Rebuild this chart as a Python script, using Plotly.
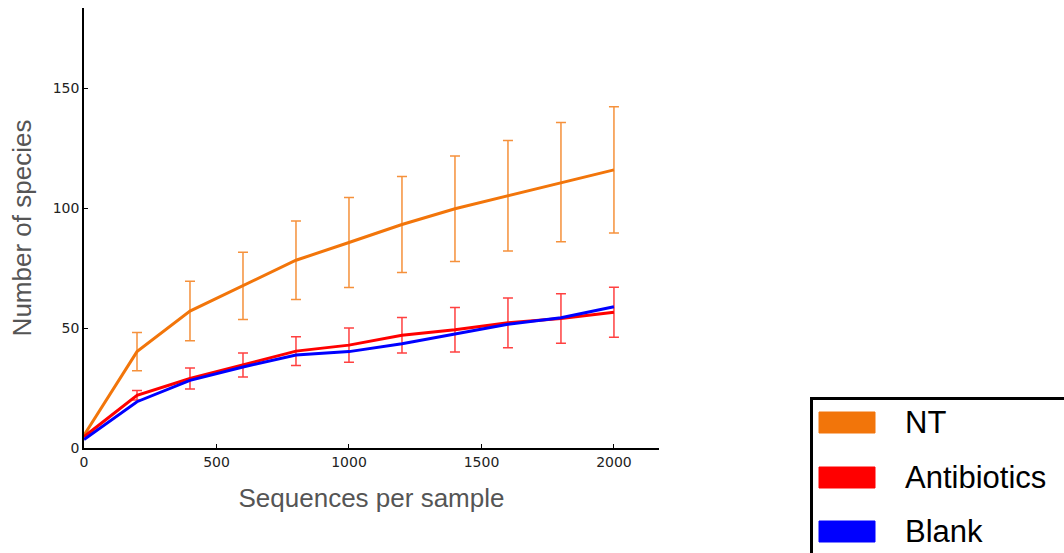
import plotly.graph_objects as go

# ---- data ----
seqs = [0, 200, 400, 600, 800, 1000, 1200, 1400, 1600, 1800, 2000]
nt = [5.3, 40.2, 57.1, 67.6, 78.3, 85.7, 93.2, 99.8, 105.2, 110.9, 116.0]
nt_err = [0, 8.0, 12.4, 14.0, 16.4, 18.8, 20.0, 22.0, 23.0, 24.9, 26.3]
antibiotics = [4.7, 22.0, 29.0, 34.6, 40.4, 42.9, 47.0, 49.3, 52.2, 54.0, 56.6]
antibiotics_err = [0, 2.0, 4.4, 5.0, 6.0, 7.1, 7.4, 9.3, 10.4, 10.3, 10.4]
blank = [3.5, 19.3, 28.2, 33.8, 38.8, 40.2, 43.5, 47.6, 51.6, 54.3, 58.9]

series_names = ["NT", "Antibiotics", "Blank"]
series_colors = ["#f2750a", "#ff0000", "#0000ff"]
err_colors = ["rgba(242,117,10,0.8)", "rgba(255,0,0,0.75)", None]

x_ticks = [0, 500, 1000, 1500, 2000]
y_ticks = [0, 50, 100, 150]

fig = go.Figure()

values = [nt, antibiotics, blank]
errors = [nt_err, antibiotics_err, None]
for name, col, ecol, vals, errs in zip(series_names, series_colors, err_colors, values, errors):
    kw = {}
    if errs is not None:
        kw["error_y"] = dict(type="data", array=errs, visible=True, color=ecol,
                             thickness=1.5, width=5)
    fig.add_trace(go.Scatter(x=seqs, y=vals, mode="lines", name=name,
                             line=dict(color=col, width=3), showlegend=False, **kw))

# ---- layout geometry (pixels) ----
W, H = 1064, 553
L, R, T, B = 84, 405, 8, 105
pw, ph = W - L - R, H - T - B

def px(xp):
    return (xp - L) / pw

def py(yp):
    return (H - B - yp) / ph

fig.update_layout(
    width=W, height=H,
    margin=dict(l=L, r=R, t=T, b=B, pad=0),
    paper_bgcolor="white", plot_bgcolor="white",
    showlegend=False,
    xaxis=dict(range=[0, 2170], tickvals=x_ticks, ticks="inside", ticklen=4,
               tickcolor="#000", tickwidth=1, showline=True, linecolor="#000",
               linewidth=1.5, showgrid=False, zeroline=False,
               tickfont=dict(family="DejaVu Sans", size=14, color="#222"),
               title=dict(text="Sequences per sample",
                          font=dict(family="Liberation Sans", size=26, color="#555"),
                          standoff=20)),
    yaxis=dict(range=[0, 183.5], tickvals=y_ticks, ticks="inside", ticklen=4,
               tickcolor="#000", tickwidth=1, showline=True, linecolor="#000",
               linewidth=1.5, showgrid=False, zeroline=False,
               tickfont=dict(family="DejaVu Sans", size=14, color="#222"),
               title=dict(text="Number of species",
                          font=dict(family="Liberation Sans", size=26, color="#555"),
                          standoff=14)),
)

# ---- manual legend (patch style) ----
fig.add_shape(type="rect", xref="paper", yref="paper",
              x0=px(811.5), x1=px(1075), y0=py(398.5), y1=py(570),
              line=dict(color="#000", width=3), fillcolor="white", layer="above")
patch_tops = [412, 467, 521]
for name, col, top in zip(series_names, series_colors, patch_tops):
    fig.add_shape(type="rect", xref="paper", yref="paper",
                  x0=px(819), x1=px(875), y0=py(top), y1=py(top + 21),
                  line=dict(color=col, width=1), fillcolor=col, layer="above")
    fig.add_annotation(text=name, xref="paper", yref="paper",
                       x=px(903), y=py(top + 10), xanchor="left", yanchor="middle",
                       showarrow=False,
                       font=dict(family="Liberation Sans", size=31, color="#000"))

fig.write_html("out.html")
